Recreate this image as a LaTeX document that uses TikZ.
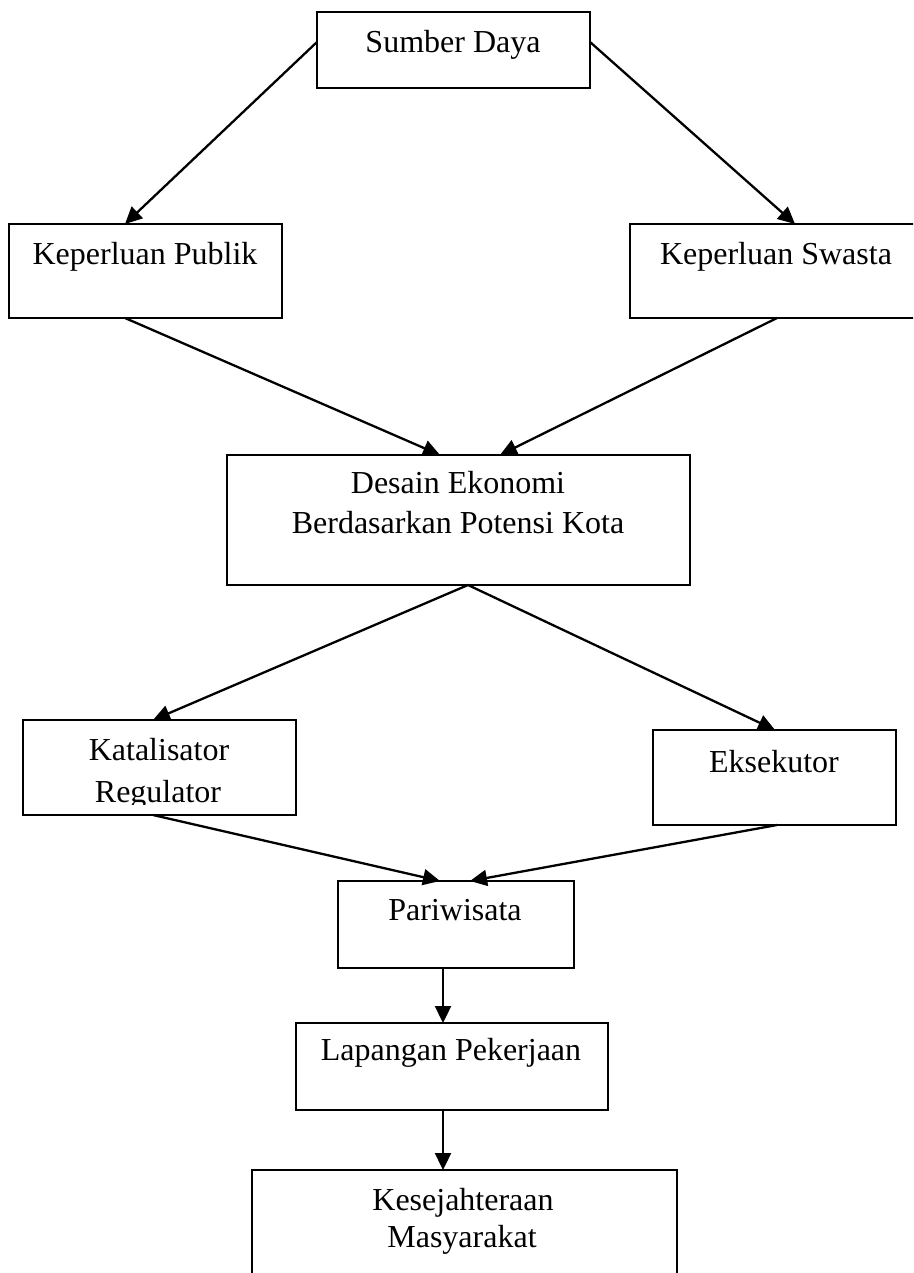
\documentclass[tikz,border=0pt]{standalone}
\usepackage{fontspec}
\setmainfont{Liberation Serif}
\usetikzlibrary{arrows.meta}
\tikzset{
  box/.style={draw=black, line width=2.3pt, inner sep=0pt, outer sep=0pt, anchor=north west, fill=none},
  txt/.style={anchor=base, inner sep=0pt, font=\fontsize{32}{38}\selectfont},
  conn/.style={line width=2.3pt, -{Triangle[length=17pt,width=16pt]}, shorten >=0pt}
}
\begin{document}
\begin{tikzpicture}[x=1pt,y=-1pt]
\useasboundingbox (0,0) rectangle (913,1273);
\clip (0,0) rectangle (913,1273);
% boxes
\node[box, minimum width=273pt, minimum height=76pt] (sd) at (317,12) {};
\node[box, minimum width=273pt, minimum height=94pt] (kp) at (9,224) {};
\node[box, minimum width=290pt, minimum height=94pt] (ks) at (630,224) {};
\node[box, minimum width=463pt, minimum height=130pt] (de) at (227,455) {};
\node[box, minimum width=273pt, minimum height=95pt] (kr) at (23,720) {};
\node[box, minimum width=243pt, minimum height=95pt] (ek) at (653,730) {};
\node[box, minimum width=236pt, minimum height=87pt] (pw) at (338,881) {};
\node[box, minimum width=312pt, minimum height=87pt] (lp) at (296,1023) {};
\node[box, minimum width=425pt, minimum height=130pt] (kj) at (252,1170) {};
% texts
\node[txt] (sdt) at (453,53) {Sumber Daya};
\node[txt] (kpt) at (145,265) {Keperluan Publik};
\node[txt] (kst) at (776,265) {Keperluan Swasta};
\node[txt] (det1) at (458,493) {Desain Ekonomi};
\node[txt] (det2) at (458,533) {Berdasarkan Potensi Kota};
\begin{scope}
\clip (0,700) rectangle (913,804);
\node[txt] (krt1) at (159,760) {Katalisator};
\node[txt] (krt2) at (158,802) {Regulator};
\end{scope}
\node[txt] (ekt) at (774,772) {Eksekutor};
\node[txt] (pwt) at (455,920) {Pariwisata};
\node[txt] (lpt) at (451,1060) {Lapangan Pekerjaan};
\node[txt] (kjt1) at (463,1210) {Kesejahteraan};
\node[txt] (kjt2) at (462,1247) {Masyarakat};
% connectors
\draw[conn] ([yshift=-30pt]sd.north west) -- ([xshift=116pt]kp.north west);
\draw[conn] ([yshift=-30pt]sd.north east) -- ([xshift=165pt]ks.north west);
\draw[conn] ([xshift=116pt]kp.south west) -- ([xshift=213pt]de.north west);
\draw[conn] ([xshift=147pt]ks.south west) -- ([xshift=273pt]de.north west);
\draw[conn] ([xshift=241pt]de.south west) -- ([xshift=130pt]kr.north west);
\draw[conn] ([xshift=241pt]de.south west) -- ([xshift=122pt]ek.north west);
\draw[conn] ([xshift=130pt]kr.south west) -- ([xshift=102pt]pw.north west);
\draw[conn] ([xshift=124pt]ek.south west) -- ([xshift=132pt]pw.north west);
\draw[conn] ([xshift=105pt]pw.south west) -- ([xshift=147pt]lp.north west);
\draw[conn] ([xshift=147pt]lp.south west) -- ([xshift=191pt]kj.north west);
\end{tikzpicture}
\end{document}
